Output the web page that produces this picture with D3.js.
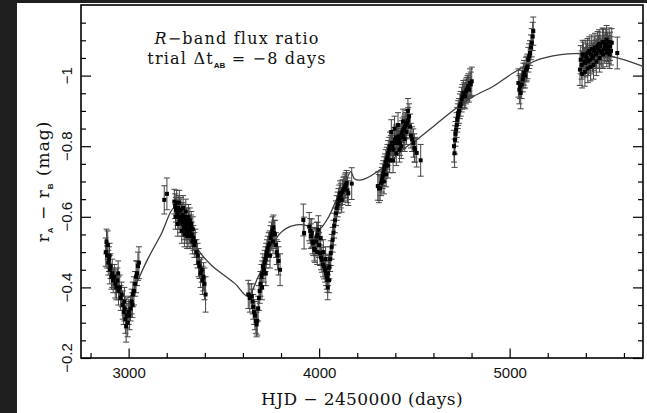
<!DOCTYPE html>
<html>
<head>
<meta charset="utf-8">
<script src="https://cdn.jsdelivr.net/npm/d3@7/dist/d3.min.js"></script>
<style>
  html, body { margin: 0; padding: 0; background: #1f1f1f; }
  svg { display: block; }
</style>
</head>
<body>
<svg id="chart" width="647" height="413"></svg>
<script>
// ---------------- data ----------------
const obsDay = [
  // season 1
  2880,2884,2887,2890,2893,2897,2901,2905,2910,2914,
  2919,2925,2930,2936,2941,2947,2953,2958,2963,2969,
  2974,2979,2983,2987,2991,2995,3000,3005,3010,3016,
  3022,3028,3034,3039,3044,3049,3054,
  // season 2
  3187,3201,3240,3244,3248,3252,3256,3260,3263,3267,
  3270,3274,3277,3281,3284,3288,3291,3295,3298,3302,
  3305,3309,3312,3316,3320,3323,3327,3331,3335,3340,
  3345,3350,3356,3362,3367,3372,3378,3383,3388,3393,
  3398,3404,
  // season 3
  3628,3636,3646,3650,3654,3659,3663,3668,3672,3675,
  3680,3684,3688,3692,3697,3701,3705,3710,3714,3718,
  3722,3726,3730,3735,3740,3745,3750,3755,3760,3764,
  3768,3773,3777,3782,3787,3795,3917,3921,
  // season 4
  3948,3953,3957,3961,3965,3969,3974,3978,3983,3987,
  3992,3996,4000,4005,4010,4014,4020,4026,4031,4036,
  4040,4043,4047,4050,4054,4058,4061,4066,4071,4075,
  4079,4083,4088,4092,4097,4101,4106,4110,4114,4118,
  4123,4127,4132,4136,4140,4144,4149,4153,4171,
  // season 5
  4308,4314,4320,4325,4329,4333,4337,4342,4346,4350,
  4355,4359,4363,4368,4372,4377,4381,4385,4390,4394,
  4398,4403,4407,4411,4416,4420,4424,4429,4433,4438,
  4442,4446,4451,4455,4460,4464,4468,4472,4477,4482,
  4488,4495,4500,4503,4512,4533,
  // season 6
  4708,4711,4713,4716,4719,4722,4725,4728,4730,4734,
  4739,4743,4748,4752,4757,4762,4766,4770,4774,4779,
  4783,4787,4792,4796,4801,
  // season 7
  5046,5051,5055,5058,5063,5069,5072,5076,5081,5086,
  5090,5093,5098,5103,5107,5112,5116,5121,5124,
  // season 8
  5369,5373,5378,5383,5387,5392,5396,5400,5404,5409,
  5413,5418,5422,5427,5431,5435,5439,5444,5448,5453,
  5457,5462,5466,5470,5474,5479,5483,5488,5492,5497,
  5501,5505,5509,5514,5518,5523,5527,5532,5536,5565,
  // scattered points inside the dense seasons
  2900,2945,2978,3020,
  3246,3258,3266,3279,3286,3293,3300,3307,3314,3321,3329,3337,
  3700,3720,3742,3758,
  3990,4008,4022,4034,4045,4052,
  4340,4352,4361,4370,4379,4388,4396,4405,4414,4422,4431,4440,4449,4458,4466,
  5380,5395,5410,5425,5440,5455,5472,5490,5510,5525
];
const obsMag = [
  -0.50,-0.53,-0.49,-0.52,-0.47,-0.48,-0.45,-0.46,-0.43,-0.44,
  -0.42,-0.43,-0.41,-0.40,-0.42,-0.39,-0.40,-0.37,-0.38,-0.35,
  -0.33,-0.34,-0.31,-0.29,-0.32,-0.30,-0.33,-0.32,-0.34,-0.36,
  -0.38,-0.39,-0.41,-0.43,-0.44,-0.46,-0.47,
  -0.648,-0.665,-0.643,-0.63,-0.62,-0.64,-0.61,-0.625,-0.60,-0.615,
  -0.59,-0.62,-0.60,-0.58,-0.605,-0.59,-0.57,-0.60,-0.58,-0.56,
  -0.59,-0.57,-0.55,-0.58,-0.56,-0.545,-0.57,-0.55,-0.53,-0.54,
  -0.52,-0.53,-0.50,-0.49,-0.47,-0.46,-0.44,-0.45,-0.42,-0.43,
  -0.41,-0.38,
  -0.38,-0.37,-0.375,-0.36,-0.345,-0.33,-0.32,-0.305,-0.295,-0.305,
  -0.34,-0.37,-0.39,-0.41,-0.43,-0.44,-0.46,-0.45,-0.47,-0.48,
  -0.49,-0.50,-0.51,-0.52,-0.525,-0.54,-0.55,-0.56,-0.57,-0.555,
  -0.55,-0.52,-0.50,-0.49,-0.475,-0.45,-0.591,-0.554,
  -0.572,-0.56,-0.545,-0.554,-0.53,-0.525,-0.51,-0.506,-0.53,-0.544,
  -0.55,-0.563,-0.52,-0.497,-0.485,-0.478,-0.465,-0.459,-0.45,-0.44,
  -0.43,-0.421,-0.44,-0.455,-0.459,-0.48,-0.497,-0.515,-0.535,-0.555,
  -0.575,-0.59,-0.61,-0.625,-0.635,-0.645,-0.655,-0.667,-0.66,-0.648,
  -0.67,-0.677,-0.68,-0.686,-0.69,-0.696,-0.675,-0.667,-0.694,
  -0.687,-0.68,-0.681,-0.695,-0.705,-0.715,-0.724,-0.735,-0.743,-0.755,
  -0.762,-0.77,-0.781,-0.79,-0.80,-0.795,-0.809,-0.80,-0.79,-0.81,
  -0.818,-0.825,-0.809,-0.815,-0.828,-0.82,-0.809,-0.825,-0.837,-0.845,
  -0.828,-0.85,-0.856,-0.86,-0.866,-0.87,-0.875,-0.885,-0.856,-0.83,
  -0.82,-0.809,-0.795,-0.79,-0.781,-0.76,
  -0.80,-0.78,-0.818,-0.835,-0.847,-0.86,-0.875,-0.885,-0.894,-0.90,
  -0.913,-0.92,-0.932,-0.94,-0.951,-0.945,-0.941,-0.955,-0.96,-0.965,
  -0.97,-0.96,-0.979,-0.975,-0.984,
  -0.979,-0.96,-0.97,-0.951,-0.975,-0.989,-1.00,-1.008,-1.00,-1.017,
  -1.02,-1.026,-1.045,-1.055,-1.064,-1.08,-1.093,-1.111,-1.126,
  -1.017,-1.045,-1.03,-1.06,-1.055,-1.04,-1.036,-1.06,-1.05,-1.065,
  -1.04,-1.07,-1.045,-1.06,-1.075,-1.05,-1.055,-1.07,-1.08,-1.06,
  -1.064,-1.085,-1.074,-1.09,-1.083,-1.07,-1.064,-1.095,-1.093,-1.075,
  -1.083,-1.09,-1.102,-1.08,-1.074,-1.095,-1.083,-1.07,-1.093,-1.064,
  -0.49,-0.44,-0.36,-0.35,
  -0.60,-0.58,-0.64,-0.56,-0.625,-0.55,-0.615,-0.545,-0.60,-0.59,-0.58,-0.565,
  -0.40,-0.44,-0.49,-0.53,
  -0.50,-0.54,-0.50,-0.48,-0.40,-0.42,
  -0.70,-0.72,-0.745,-0.76,-0.84,-0.76,-0.85,-0.78,-0.86,-0.79,-0.80,-0.87,-0.82,-0.84,-0.90,
  -1.005,-1.01,-1.02,-1.025,-1.03,-1.04,-1.05,-1.06,-1.065,-1.06
];
const obsErr = [
  .040,.035,.035,.040,.035,.035,.040,.035,.035,.040,
  .035,.035,.040,.035,.035,.040,.035,.035,.035,.040,
  .035,.035,.040,.045,.035,.040,.035,.040,.035,.035,
  .035,.040,.035,.045,.035,.040,.045,
  .040,.045,.035,.035,.035,.035,.035,.035,.035,.035,
  .035,.035,.035,.035,.035,.035,.035,.035,.035,.035,
  .035,.035,.035,.035,.035,.035,.035,.035,.035,.035,
  .035,.035,.035,.035,.040,.035,.040,.035,.040,.040,
  .045,.050,
  .040,.040,.035,.035,.035,.035,.040,.035,.035,.040,
  .035,.035,.035,.035,.035,.035,.035,.035,.035,.035,
  .035,.035,.035,.035,.035,.035,.035,.040,.035,.035,
  .040,.035,.035,.040,.040,.045,.045,.045,
  .040,.035,.035,.040,.035,.035,.035,.035,.040,.040,
  .035,.040,.035,.035,.035,.035,.035,.035,.035,.035,
  .035,.035,.035,.035,.035,.035,.035,.035,.035,.035,
  .035,.035,.035,.035,.035,.035,.035,.035,.035,.035,
  .035,.035,.035,.035,.035,.035,.035,.035,.045,
  .040,.040,.035,.035,.035,.035,.035,.035,.035,.035,
  .035,.035,.035,.035,.040,.035,.035,.035,.035,.035,
  .035,.035,.035,.035,.035,.035,.035,.035,.035,.035,
  .035,.035,.035,.035,.035,.035,.035,.035,.035,.035,
  .035,.040,.040,.035,.040,.045,
  .045,.040,.040,.035,.035,.035,.035,.035,.035,.035,
  .035,.035,.035,.035,.035,.035,.035,.035,.035,.035,
  .035,.035,.040,.035,.040,
  .040,.040,.035,.045,.040,.035,.035,.035,.035,.035,
  .035,.035,.035,.035,.035,.035,.040,.040,.040,
  .045,.040,.040,.040,.040,.040,.040,.040,.040,.040,
  .040,.040,.040,.040,.040,.040,.040,.040,.040,.040,
  .040,.040,.040,.040,.040,.040,.040,.040,.040,.040,
  .040,.040,.040,.040,.040,.040,.040,.040,.040,.045,
  .035,.035,.040,.035,
  .035,.035,.035,.035,.035,.035,.035,.035,.035,.035,.035,.035,
  .035,.035,.035,.035,
  .035,.035,.035,.035,.035,.035,
  .035,.035,.035,.035,.035,.035,.035,.035,.035,.035,.035,.035,.035,.035,.035,
  .040,.040,.040,.040,.040,.040,.040,.040,.040,.040
];
// smooth model curve (knots)
const modelDay = [2875,2900,2930,2960,2985,3010,3040,3100,3170,3238,3270,3320,3380,3440,3500,3560,3625,
  3680,3740,3790,3830,3880,3920,3960,4000,4050,4100,4140,4166,4185,4215,4250,4300,4350,4400,4450,4512,
  4600,4710,4810,4915,5020,5150,5260,5370,5450,5580,5700];
const modelMag = [-0.52,-0.48,-0.43,-0.395,-0.37,-0.375,-0.41,-0.48,-0.55,-0.625,-0.59,-0.545,-0.495,-0.46,-0.435,-0.41,-0.375,
  -0.43,-0.50,-0.55,-0.568,-0.577,-0.577,-0.57,-0.565,-0.60,-0.66,-0.70,-0.728,-0.708,-0.704,-0.71,-0.726,-0.745,-0.77,-0.795,-0.818,
  -0.856,-0.904,-0.941,-0.97,-1.008,-1.045,-1.059,-1.063,-1.062,-1.048,-1.026];

const xMajorTicks = [3000, 4000, 5000];
const xMinorTicks = [2800,3200,3400,3600,3800,4200,4400,4600,4800,5200,5400,5600];
const yMajorTicks = [-0.2, -0.4, -0.6, -0.8, -1.0];
const yTickLabels = ["\u22120.2", "\u22120.4", "\u22120.6", "\u22120.8", "\u22121"];
const yMinorTicks = [-0.25,-0.3,-0.35,-0.45,-0.5,-0.55,-0.65,-0.7,-0.75,-0.85,-0.9,-0.95,-1.05,-1.1,-1.15];

// ---------------- layout ----------------
const svg = d3.select("#chart");
svg.append("rect").attr("x", 17).attr("y", 3).attr("width", 647 - 17).attr("height", 413 - 3).attr("fill", "#ffffff");

const L = 81, R = 643, T = 5, B = 358;
const x = d3.scaleLinear().domain([2750, 5700]).range([L, R]);
const y = d3.scaleLinear().domain([-0.2, -1.2]).range([B, T]);

const SANS = "'Liberation Sans', Arial, Helvetica, sans-serif";
const SERIF = "'DejaVu Serif', serif";

// axes (ticks pointing inward)
function styleAxis(g) {
  g.select(".domain").remove();
  g.selectAll(".tick line").attr("stroke", "#000").attr("stroke-width", 1.2);
}
svg.append("g").attr("transform", `translate(0,${B})`)
  .call(d3.axisBottom(x).tickValues(xMinorTicks).tickSizeInner(-5).tickSizeOuter(0).tickFormat(""))
  .call(styleAxis);
const xAxisG = svg.append("g").attr("transform", `translate(0,${B})`)
  .call(d3.axisBottom(x).tickValues(xMajorTicks).tickSizeInner(-9.5).tickSizeOuter(0).tickPadding(9).tickFormat(d3.format("d")))
  .call(styleAxis);
xAxisG.selectAll("text").attr("font-family", SANS).attr("font-size", 15).attr("fill", "#111");

svg.append("g").attr("transform", `translate(${L},0)`)
  .call(d3.axisLeft(y).tickValues(yMinorTicks).tickSizeInner(-5).tickSizeOuter(0).tickFormat(""))
  .call(styleAxis);
svg.append("g").attr("transform", `translate(${L},0)`)
  .call(d3.axisLeft(y).tickValues(yMajorTicks).tickSizeInner(-10).tickSizeOuter(0).tickFormat(""))
  .call(styleAxis);
svg.append("g").attr("transform", `translate(${R},0)`)
  .call(d3.axisRight(y).tickValues(yMinorTicks).tickSizeInner(-5).tickSizeOuter(0).tickFormat(""))
  .call(styleAxis);
svg.append("g").attr("transform", `translate(${R},0)`)
  .call(d3.axisRight(y).tickValues(yMajorTicks).tickSizeInner(-10).tickSizeOuter(0).tickFormat(""))
  .call(styleAxis);

// rotated y tick labels
svg.append("g").selectAll("text").data(yMajorTicks).join("text")
  .attr("transform", (d) => `translate(72,${y(d)}) rotate(-90)`)
  .attr("text-anchor", "middle")
  .attr("font-family", SANS).attr("font-size", 15).attr("fill", "#111")
  .text((d, i) => yTickLabels[i]);

// frame
svg.append("rect").attr("x", L).attr("y", T).attr("width", R - L).attr("height", B - T)
  .attr("fill", "none").attr("stroke", "#000").attr("stroke-width", 1.6);

// model curve
const line = d3.line().x((d, i) => x(modelDay[i])).y((d, i) => y(modelMag[i])).curve(d3.curveCatmullRom.alpha(0.5));
svg.append("path").datum(modelDay).attr("d", line)
  .attr("fill", "none").attr("stroke", "#3c3c3c").attr("stroke-width", 1.3);

// error bars
const pts = obsDay.map((d, i) => ({ d, m: obsMag[i], e: obsErr[i] }));
const eb = svg.append("g").attr("stroke", "#444").attr("stroke-width", 1);
eb.selectAll("line.v").data(pts).join("line").attr("class", "v")
  .attr("x1", (p) => x(p.d)).attr("x2", (p) => x(p.d))
  .attr("y1", (p) => y(p.m - p.e)).attr("y2", (p) => y(p.m + p.e));
eb.selectAll("line.c1").data(pts).join("line").attr("class", "c1")
  .attr("x1", (p) => x(p.d) - 3).attr("x2", (p) => x(p.d) + 3)
  .attr("y1", (p) => y(p.m - p.e)).attr("y2", (p) => y(p.m - p.e));
eb.selectAll("line.c2").data(pts).join("line").attr("class", "c2")
  .attr("x1", (p) => x(p.d) - 3).attr("x2", (p) => x(p.d) + 3)
  .attr("y1", (p) => y(p.m + p.e)).attr("y2", (p) => y(p.m + p.e));

// markers
svg.append("g").selectAll("rect").data(pts).join("rect")
  .attr("x", (p) => x(p.d) - 2).attr("y", (p) => y(p.m) - 2)
  .attr("width", 4).attr("height", 4).attr("fill", "#000");

// titles
svg.append("text").attr("x", (L + R) / 2).attr("y", 405).attr("text-anchor", "middle")
  .attr("font-family", SERIF).attr("font-size", 17).attr("letter-spacing", 0.4).attr("fill", "#111")
  .text("HJD \u2212 2450000 (days)");

const yt = svg.append("text").attr("transform", `translate(49,${(T + B) / 2}) rotate(-90)`)
  .attr("text-anchor", "middle").attr("font-family", SERIF).attr("font-size", 17)
  .attr("letter-spacing", 1).attr("fill", "#111");
yt.append("tspan").text("r");
yt.append("tspan").attr("font-family", SANS).attr("font-weight", "bold").attr("font-size", 8).attr("dy", 4).text("A");
yt.append("tspan").attr("dy", -4).text(" \u2212 r");
yt.append("tspan").attr("font-family", SANS).attr("font-weight", "bold").attr("font-size", 8).attr("dy", 4).text("B");
yt.append("tspan").attr("dy", -4).text(" (mag)");

// annotation
const ann = svg.append("g").attr("font-family", SERIF).attr("font-size", 16)
  .attr("letter-spacing", 1.2).attr("fill", "#111");
const a1 = ann.append("text").attr("x", 237).attr("y", 44).attr("text-anchor", "middle");
a1.append("tspan").attr("font-style", "italic").text("R");
a1.append("tspan").text("\u2212band flux ratio");
const a2 = ann.append("text").attr("x", 237).attr("y", 64).attr("text-anchor", "middle");
a2.append("tspan").text("trial \u0394t");
a2.append("tspan").attr("font-family", SANS).attr("font-weight", "bold").attr("font-size", 8)
  .attr("letter-spacing", 0).attr("dy", 4).text("AB");
a2.append("tspan").attr("dy", -4).text(" = \u22128 days");
</script>
</body>
</html>
